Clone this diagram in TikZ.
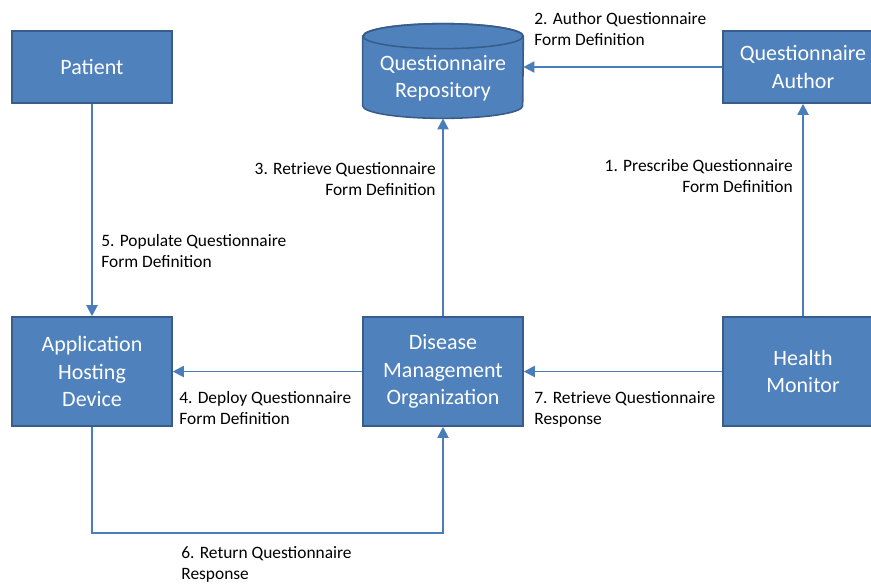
\documentclass[tikz,border=0pt]{standalone}
\usepackage{fontspec}
\setmainfont{Carlito}
\usetikzlibrary{shapes.geometric,arrows.meta}
\definecolor{boxblue}{HTML}{4F81BD}
\definecolor{boxedge}{HTML}{385D8A}
\definecolor{lineblue}{HTML}{4A7EBB}
\begin{document}
\begin{tikzpicture}[x=0.02cm,y=-0.02cm,
 b/.style={draw=boxedge,line width=0.9pt,fill=boxblue,text=white,align=center,
  font=\fontsize{12.5}{15.6}\selectfont,minimum width=3.2cm},
 actor/.style={b,minimum height=1.44cm},
 sys/.style={b,minimum height=2.18cm},
 repo/.style={minimum width=3.2cm,minimum height=1.88cm,inner sep=0pt},
 repotext/.style={text=white,align=center,font=\fontsize{12.5}{15.6}\selectfont},
 lbl/.style={align=left,inner sep=0pt,font=\fontsize{9.9}{11.9}\selectfont},
 ar/.style={-{Triangle[length=2.2mm,width=2.2mm]},lineblue,line width=1.1pt}]
\useasboundingbox (0,0) rectangle (871,583);
\clip (0,0) rectangle (871,583);
\node[actor] (pat) at (92,67) {Patient};
% repository drawn as a cylinder round an empty node
\node[repo] (repo) at (443,71) {};
\filldraw[fill=boxblue,draw=boxedge,line width=0.9pt]
 ([yshift=-0.25cm]repo.north west) -- ([yshift=0.25cm]repo.south west)
 arc[start angle=180,end angle=0,x radius=80,y radius=12.5]
 -- ([yshift=-0.25cm]repo.north east)
 arc[start angle=0,end angle=-180,x radius=80,y radius=12.5] -- cycle;
\draw[boxedge,line width=0.9pt] ([yshift=-0.25cm]repo.north) ellipse[x radius=80,y radius=12.5];
\node[repotext] (repolbl) at ([yshift=-0.14cm]repo.center) {Questionnaire\\Repository};
\node[actor] (auth) at (803,67) {Questionnaire\\Author};
\node[sys] (ahd) at (92,371.5) {Application\\Hosting\\Device};
\node[sys] (dmo) at (443,371.5) {Disease\\Management\\Organization};
\node[sys] (hm) at (803,371.5) {Health\\Monitor};
\draw[ar] (pat) -- (ahd);
\draw[ar] (dmo) -- (repo);
\draw[ar] (auth.west) -- (repo.east |- auth.west);
\draw[ar] (hm) -- (auth);
\draw[ar] (dmo) -- (ahd);
\draw[ar] (hm) -- (dmo);
\draw[ar] (ahd.south) -- ++(0,106) -| (dmo.south);
\node[lbl,anchor=north west] (l2) at (534,12) {2. Author Questionnaire\\Form Definition};
\node[lbl,anchor=north east,align=right] (l3) at (436,162) {3. Retrieve Questionnaire\\Form Definition};
\node[lbl,anchor=north east,align=right] (l1) at (793,159) {1. Prescribe Questionnaire\\Form Definition};
\node[lbl,anchor=north west] (l5) at (101,234) {5. Populate Questionnaire\\Form Definition};
\node[lbl,anchor=north west] (l4) at (179,391) {4. Deploy Questionnaire\\Form Definition};
\node[lbl,anchor=north west] (l7) at (534,391) {7. Retrieve Questionnaire\\Response};
\node[lbl,anchor=north west] (l6) at (181,546) {6. Return Questionnaire\\Response};
\end{tikzpicture}
\end{document}
